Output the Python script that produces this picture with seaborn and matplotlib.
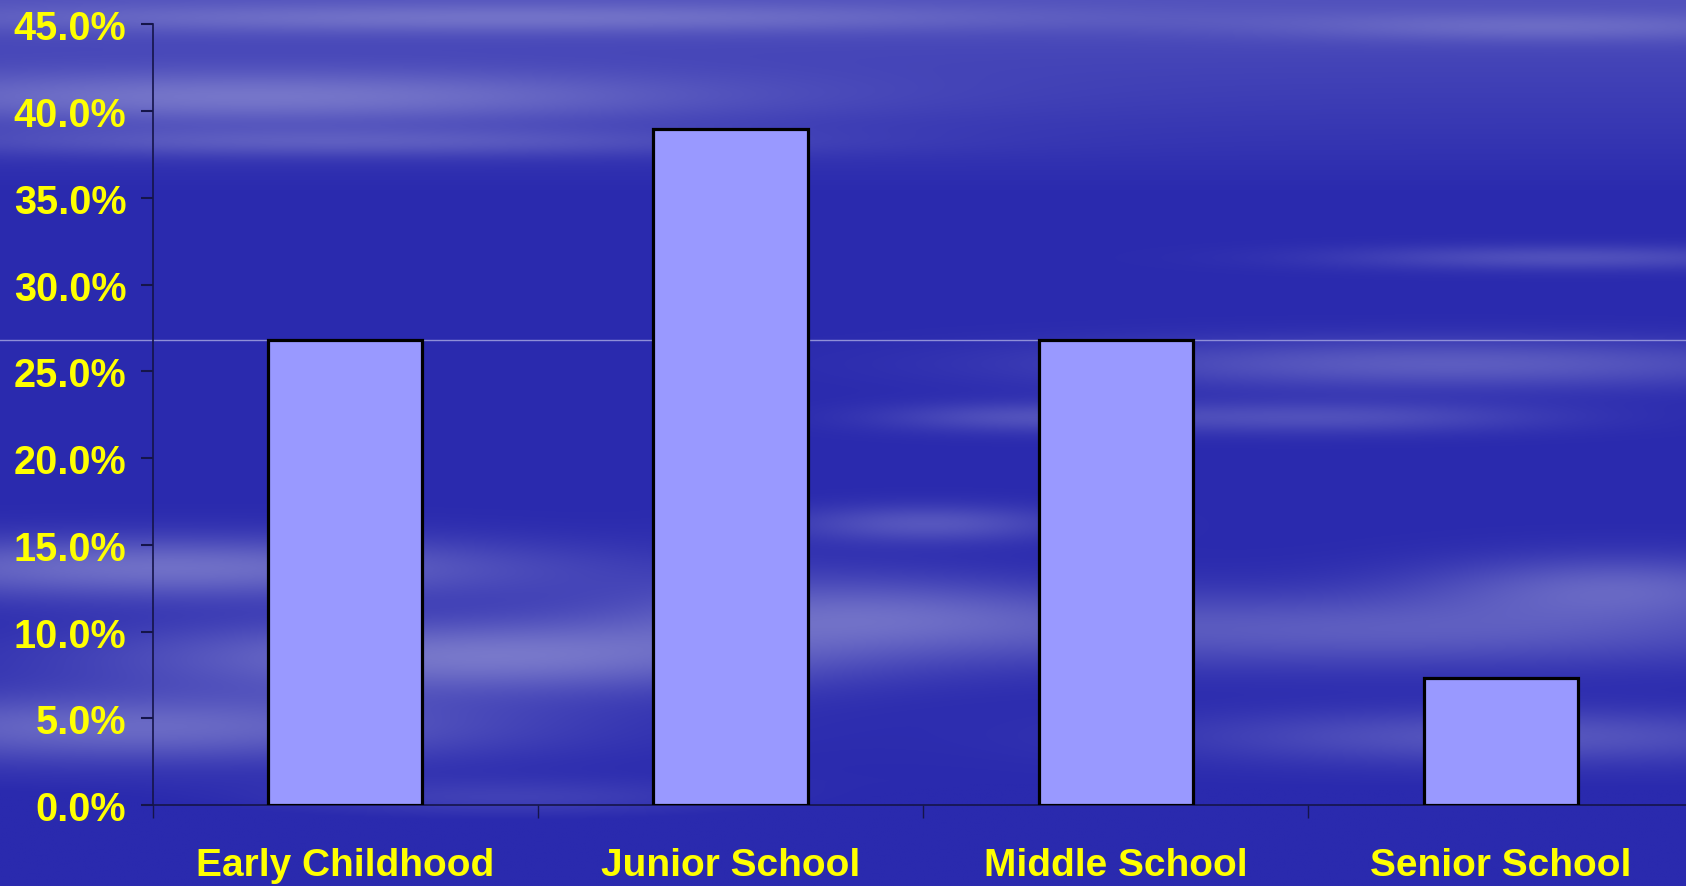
import numpy as np
import pandas as pd
import seaborn as sns
import matplotlib.pyplot as plt
from matplotlib.ticker import PercentFormatter, FixedLocator

# Data
stages = ["Early Childhood", "Junior School", "Middle School", "Senior School"]
shares = [26.8, 39.0, 26.8, 7.3]
y_ticks = [0, 5, 10, 15, 20, 25, 30, 35, 40, 45]

sns.set_style("white")
plt.rcParams["font.family"] = ["Liberation Sans", "DejaVu Sans"]

YELLOW = "#FFFF00"
BAR = "#9999FF"

fig = plt.figure(figsize=(16.86, 8.87), dpi=100)

# Sky-like backdrop: dark blue with soft horizontal streaks
h, w = 300, 560
yy, xx = np.mgrid[0:h, 0:w] / np.array([h, w])[:, None, None]
light = np.zeros((h, w))
light += 0.30 * np.clip(1 - yy / 0.22, 0, 1)
streaks = [
    # (x centre, y centre, x spread, y spread, strength)
    (0.15, 0.11, 0.20, 0.022, 0.45),
    (0.20, 0.16, 0.18, 0.012, 0.30),
    (0.30, 0.02, 0.25, 0.012, 0.30),
    (0.92, 0.03, 0.12, 0.012, 0.25),
    (0.10, 0.64, 0.16, 0.025, 0.55),
    (0.28, 0.74, 0.15, 0.030, 0.60),
    (0.08, 0.82, 0.16, 0.028, 0.50),
    (0.50, 0.69, 0.10, 0.030, 0.40),
    (0.55, 0.59, 0.06, 0.015, 0.35),
    (0.82, 0.71, 0.20, 0.030, 0.40),
    (0.96, 0.66, 0.08, 0.025, 0.40),
    (0.86, 0.41, 0.16, 0.020, 0.40),
    (0.78, 0.47, 0.10, 0.013, 0.30),
    (0.93, 0.29, 0.10, 0.010, 0.30),
    (0.90, 0.83, 0.14, 0.022, 0.35),
    (0.60, 0.47, 0.06, 0.012, 0.25),
    (0.30, 0.90, 0.10, 0.015, 0.20),
]
for cx, cy, sx, sy, a in streaks:
    light += a * np.exp(-((xx - cx) ** 2) / (2 * sx**2) - ((yy - cy) ** 2) / (2 * sy**2))
light -= 0.15 * np.clip((yy - 0.88) / 0.12, 0, 1)
light = np.clip(light, 0, 1)
dark = np.array([0x2A, 0x2A, 0xAE]) / 255
pale = np.array([0xA8, 0xA8, 0xDC]) / 255
bg = dark[None, None, :] + light[..., None] * (pale - dark)[None, None, :]

bg_ax = fig.add_axes([0, 0, 1, 1], zorder=-1)
bg_ax.imshow(bg, aspect="auto", interpolation="bilinear", extent=[0, 1, 0, 1])
bg_ax.axis("off")

ax = fig.add_axes([0.0905, 0.0913, 0.9140, 0.880])
ax.set_facecolor("none")

df = pd.DataFrame({"stage": stages, "share": shares})
sns.barplot(
    data=df,
    x="stage",
    y="share",
    color=BAR,
    saturation=1,
    width=0.4,
    edgecolor="black",
    linewidth=2.3,
    ax=ax,
    zorder=3,
)

# thin light line at the level of the first bar, running across the slide
ax.axhline(shares[0], xmin=-0.12, xmax=1, color="#8f8fd8", lw=1.0, clip_on=False, zorder=1)

ax.set_xlim(-0.5, 3.5)
ax.set_ylim(0, 45)
ax.yaxis.set_major_locator(FixedLocator(y_ticks))
ax.yaxis.set_major_formatter(PercentFormatter(decimals=1))

ax.xaxis.set_minor_locator(FixedLocator([-0.5, 0.5, 1.5, 2.5, 3.5]))
ax.tick_params(axis="x", which="major", length=0, pad=30, labelsize=28, labelcolor=YELLOW)
ax.tick_params(axis="x", which="minor", length=9, width=1, color="#15154a", direction="out", bottom=True)
ax.tick_params(axis="y", length=9, width=1.5, color="#15154a", direction="out", left=True, pad=10,
               labelsize=28.5, labelcolor=YELLOW)
for lab in ax.get_xticklabels() + ax.get_yticklabels():
    lab.set_fontweight("bold")

ax.set_xlabel("")
ax.set_ylabel("")
for side in ["top", "right"]:
    ax.spines[side].set_visible(False)
for side in ["left", "bottom"]:
    ax.spines[side].set_color("#15154a")
    ax.spines[side].set_linewidth(1.2)

plt.savefig("out.png", dpi=100)
